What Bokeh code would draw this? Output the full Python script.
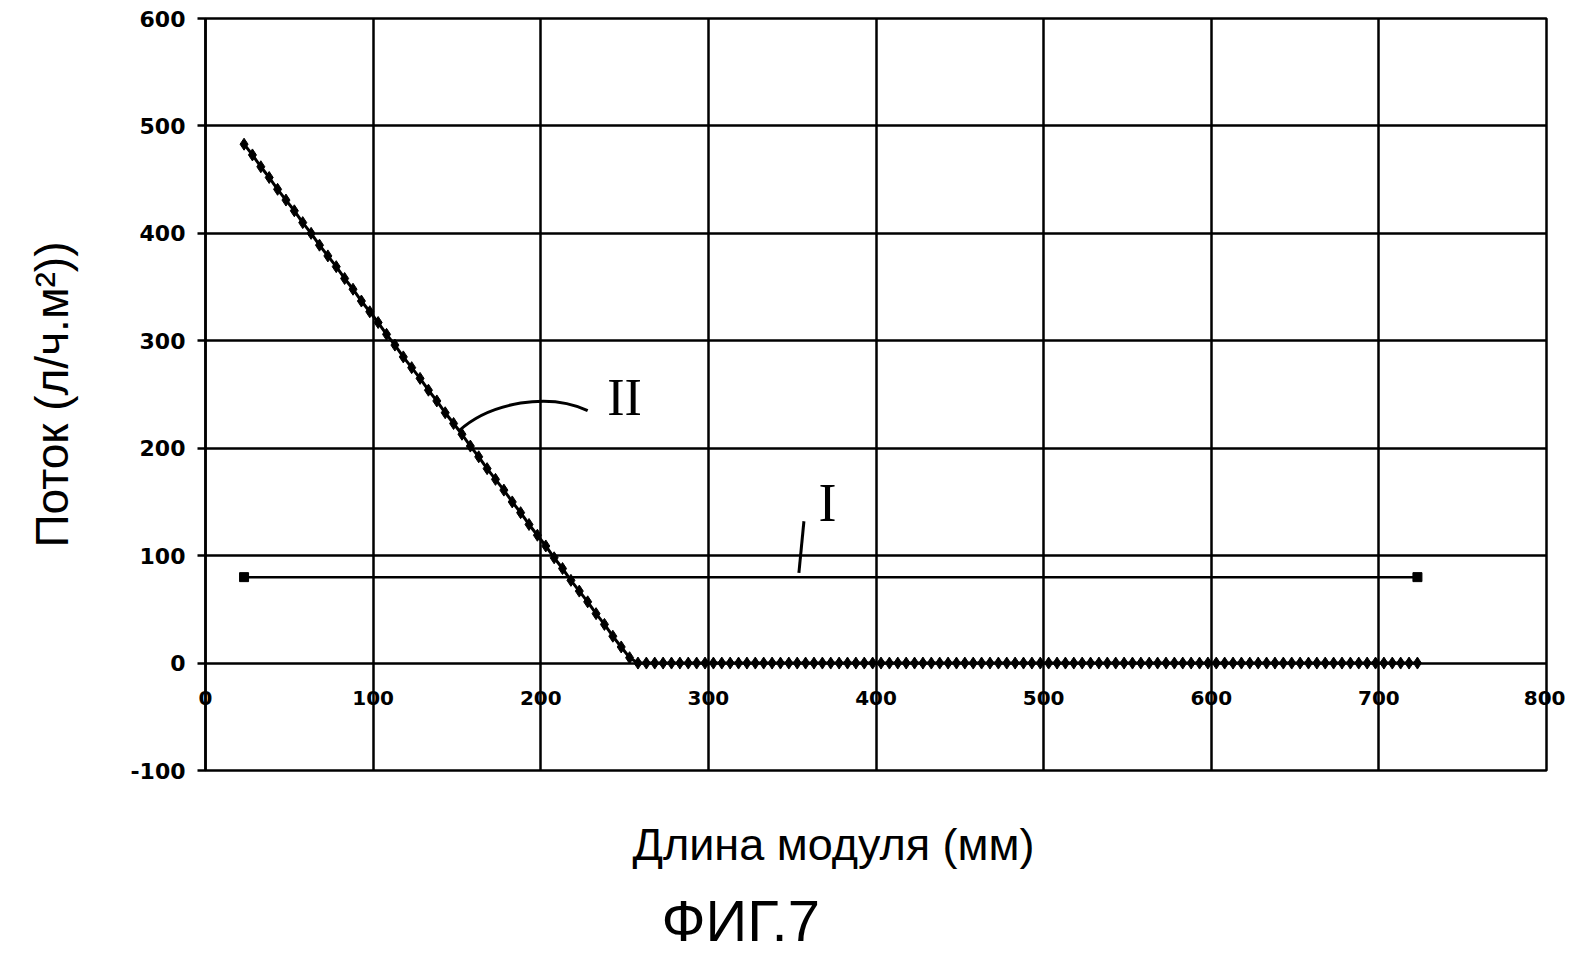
from bokeh.plotting import figure
from bokeh.models import Range1d, FixedTicker, Title
from bokeh.core.properties import value
from bokeh.embed import file_html
from bokeh.resources import INLINE

# ---- data ----
x_ticks = [0, 100, 200, 300, 400, 500, 600, 700, 800]
y_ticks = [-100, 0, 100, 200, 300, 400, 500, 600]
y_tick_labels = ["-100", "0", "100", "200", "300", "400", "500", "600"]

# Series II: flux along the module (points every 5 mm)
x_II = list(range(23, 724, 5))
y_II = [483, 473, 462, 452, 441, 431, 421, 410, 400, 389,
        379, 369, 358, 348, 337, 327, 317, 306, 296, 285,
        275, 265, 254, 244, 233, 223, 213, 202, 192, 181,
        171, 161, 150, 140, 129, 119, 109, 98, 88, 77,
        67, 57, 46, 36, 25, 15, 5,
        0, 0, 0, 0, 0, 0, 0, 0, 0, 0, 0, 0, 0, 0, 0, 0, 0, 0, 0, 0,
        0, 0, 0, 0, 0, 0, 0, 0, 0, 0, 0, 0, 0, 0, 0, 0, 0, 0, 0, 0,
        0, 0, 0, 0, 0, 0, 0, 0, 0, 0, 0, 0, 0, 0, 0, 0, 0, 0, 0, 0,
        0, 0, 0, 0, 0, 0, 0, 0, 0, 0, 0, 0, 0, 0, 0, 0, 0, 0, 0, 0,
        0, 0, 0, 0, 0, 0, 0, 0, 0, 0, 0, 0, 0, 0]

# Series I: constant flux
x_I = [23, 723]
y_I = [80, 80]

# annotation anchors (data units)
lbl_II = (250, 247)
lbl_I = (371, 149)
curve_II = dict(x0=151, y0=216, x1=228, y1=235, cx0=170, cy0=243, cx1=205, cy1=252)
tick_I = dict(x0=357, y0=132, x1=354, y1=84)

W, H = 1565, 956
p = figure(width=W, height=H, x_range=Range1d(0, 800), y_range=Range1d(-100, 600),
           output_backend="svg", toolbar_location=None,
           min_border_left=205, min_border_right=19, min_border_top=18, min_border_bottom=186)
p.background_fill_color = "white"
p.border_fill_color = "white"
p.outline_line_color = "black"
p.outline_line_width = 2.5

# grid
for g in (p.xgrid, p.ygrid):
    g.grid_line_color = "black"
    g.grid_line_width = 2.5
p.xgrid.ticker = FixedTicker(ticks=x_ticks)
p.ygrid.ticker = FixedTicker(ticks=y_ticks)

# x axis: its labels sit just under the zero line (negative standoff)
xa = p.xaxis[0]
xa.ticker = FixedTicker(ticks=x_ticks)
xa.axis_line_color = None
xa.major_tick_out = 0
xa.major_tick_in = 0
xa.minor_tick_line_color = None
xa.major_label_standoff = -80
xa.major_label_text_font = "DejaVu Sans"
xa.major_label_text_font_style = "bold"
xa.major_label_text_font_size = "20px"
xa.major_label_text_color = "black"

ya = p.yaxis[0]
ya.ticker = FixedTicker(ticks=y_ticks)
ya.major_label_overrides = {t: s for t, s in zip(y_ticks, y_tick_labels)}
ya.axis_line_color = "black"
ya.axis_line_width = 2.5
ya.major_tick_out = 8
ya.major_tick_in = 0
ya.major_tick_line_width = 2.5
ya.minor_tick_line_color = None
ya.major_label_standoff = 12
ya.major_label_text_font = "DejaVu Sans"
ya.major_label_text_font_style = "bold"
ya.major_label_text_font_size = "22px"
ya.major_label_text_color = "black"
ya.axis_label = "Поток (л/ч.м²))"
ya.axis_label_text_font = "Liberation Sans"
ya.axis_label_text_font_style = "normal"
ya.axis_label_text_font_size = "46px"
ya.axis_label_text_color = "black"
ya.axis_label_standoff = 49

# series
p.line(x_II, y_II, line_color="black", line_width=3)
p.scatter(x_II, y_II, marker="diamond", size=12, fill_color="black", line_color="black")
p.line(x_I, y_I, line_color="black", line_width=2.5)
p.scatter(x_I, y_I, marker="square", size=9, fill_color="black", line_color="black")

# annotations
p.bezier(line_color="black", line_width=3, **curve_II)
p.segment(line_color="black", line_width=3, **tick_I)
p.text(x=[lbl_II[0]], y=[lbl_II[1]], text=["II"], text_font=value("Liberation Serif"),
       text_font_size="52px", text_align="center", text_baseline="middle", text_color="black")
p.text(x=[lbl_I[0]], y=[lbl_I[1]], text=["I"], text_font=value("Liberation Serif"),
       text_font_size="54px", text_align="center", text_baseline="middle", text_color="black")

# bottom titles
t1 = Title(text="Длина модуля (мм)", align="left", offset=427,
           text_font="Liberation Sans", text_font_size="45px", text_font_style="normal",
           text_color="black", standoff=92)
t2 = Title(text="ФИГ.7", align="left", offset=456,
           text_font="Liberation Sans", text_font_size="58px", text_font_style="normal",
           text_color="black", standoff=-60)
p.add_layout(t1, "below")
p.add_layout(t2, "below")

open("out.html", "w").write(file_html(p, INLINE))
